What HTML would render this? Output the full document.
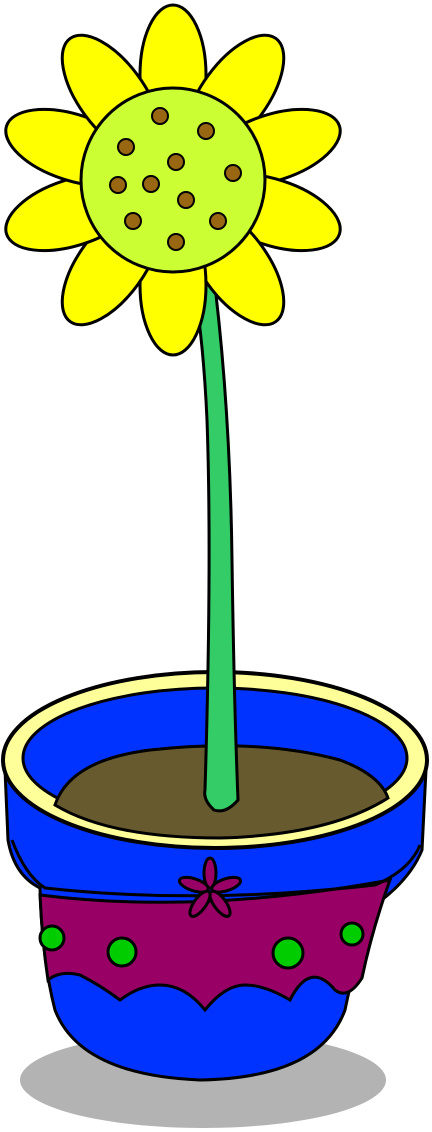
<!DOCTYPE html>
<html><head><meta charset="utf-8"><style>
html,body{margin:0;padding:0;background:#fff;width:432px;height:1132px;overflow:hidden}
svg{display:block}
</style></head><body>
<svg width="432" height="1132" viewBox="0 0 432 1132" stroke="#000" stroke-width="3">
  <ellipse cx="203" cy="1080" rx="183" ry="48" fill="#b3b3b3" stroke="none"/>
  <path d="M5,770 L8,840 Q14,875 40,888 Q42,960 55,1010 Q80,1075 200,1080 Q320,1078 345,1010 Q355,960 375,905 Q410,880 422,850 L426,770 Z" fill="#0033ff"/>
  <path d="M40,895 Q200,915 390,880 Q372,930 362,978 Q348,1000 335,990 Q310,960 290,1000 Q265,985 245,985 Q225,985 205,1010 Q185,985 160,985 Q140,985 120,1000 Q100,985 80,975 Q60,970 48,980 Q42,940 40,895 Z" fill="#990066"/>
  <path d="M12,840 Q25,875 45,888 Q200,905 375,885 Q410,870 420,845" fill="none"/>
  <g fill="#00cc00">
    <circle cx="52" cy="938" r="12"/><circle cx="122" cy="952" r="14"/><circle cx="288" cy="953" r="15"/><circle cx="352" cy="934" r="11"/>
  </g>
  <g fill="#990066" transform="translate(210,890)">
    <ellipse cx="0" cy="-17" rx="6" ry="15"/>
    <ellipse cx="0" cy="-17" rx="6" ry="15" transform="rotate(72)"/>
    <ellipse cx="0" cy="-17" rx="6" ry="15" transform="rotate(144)"/>
    <ellipse cx="0" cy="-17" rx="6" ry="15" transform="rotate(216)"/>
    <ellipse cx="0" cy="-17" rx="6" ry="15" transform="rotate(288)"/>
  </g>
  <ellipse cx="215" cy="760" rx="212" ry="88" fill="#ffff99" stroke-width="4"/>
  <ellipse cx="215" cy="758" rx="192" ry="70" fill="#0033ff"/>
  <path d="M55,805 Q70,760 150,750 Q260,738 340,760 Q380,775 388,798 Q330,835 220,838 Q110,838 55,805 Z" fill="#665a2e"/>
  <path d="M212,262 Q230,400 232,560 Q234,700 238,800 Q226,814 214,810 Q203,800 205,790 Q212,560 207,420 Q203,330 190,262 Z" fill="#33cc66"/>
  <g fill="#ffff00" transform="translate(173,180)">
    <ellipse cx="105" cy="0" rx="70" ry="33" transform="rotate(-90)"/>
    <ellipse cx="105" cy="0" rx="70" ry="33" transform="rotate(-54)"/>
    <ellipse cx="105" cy="0" rx="70" ry="33" transform="rotate(-18)"/>
    <ellipse cx="105" cy="0" rx="70" ry="33" transform="rotate(18)"/>
    <ellipse cx="105" cy="0" rx="70" ry="33" transform="rotate(54)"/>
    <ellipse cx="105" cy="0" rx="70" ry="33" transform="rotate(90)"/>
    <ellipse cx="105" cy="0" rx="70" ry="33" transform="rotate(126)"/>
    <ellipse cx="105" cy="0" rx="70" ry="33" transform="rotate(162)"/>
    <ellipse cx="105" cy="0" rx="70" ry="33" transform="rotate(198)"/>
    <ellipse cx="105" cy="0" rx="70" ry="33" transform="rotate(234)"/>
  </g>
  <circle cx="173" cy="180" r="92" fill="#ccff33"/>
  <g fill="#996611" stroke-width="2">
    <circle cx="160" cy="116" r="8"/><circle cx="206" cy="131" r="8"/><circle cx="126" cy="147" r="8"/>
    <circle cx="176" cy="162" r="8"/><circle cx="233" cy="173" r="8"/><circle cx="118" cy="185" r="8"/>
    <circle cx="151" cy="184" r="8"/><circle cx="186" cy="200" r="8"/><circle cx="133" cy="221" r="8"/>
    <circle cx="218" cy="221" r="8"/><circle cx="176" cy="242" r="8"/>
  </g>
</svg>
</body></html>
